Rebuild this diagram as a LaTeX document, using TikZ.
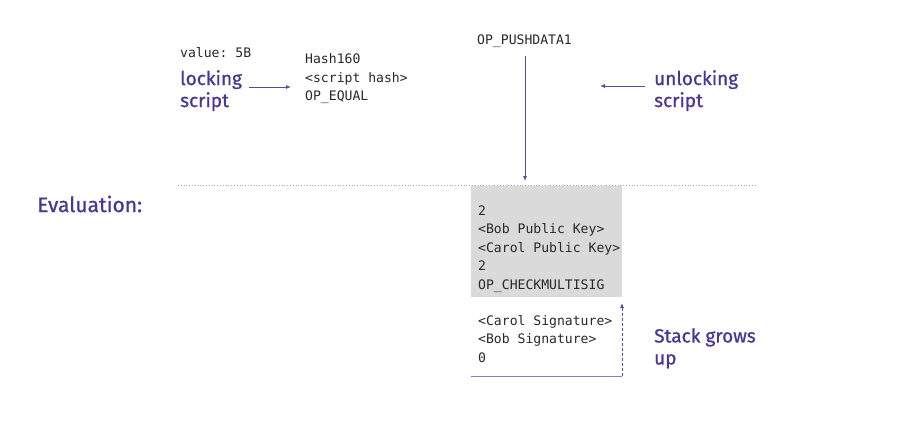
\documentclass[tikz,border=0pt]{standalone}
\usepackage{fontspec}
\setmainfont{Fira Sans}
\setmonofont{DejaVu Sans Mono}
\newfontfamily\lblfont[RawFeature={embolden=0.9}]{Fira Sans}
\usetikzlibrary{arrows.meta}
\definecolor{purp}{RGB}{74,54,148}
\definecolor{arrowc}{RGB}{85,75,160}
\definecolor{boxgray}{RGB}{218,218,218}
\definecolor{txt}{RGB}{40,40,40}
\begin{document}
\begin{tikzpicture}[x=1pt,y=-1pt,
  mono/.style={font=\ttfamily\fontsize{13.1}{18.4}\selectfont, text=txt, align=left, inner sep=0pt, anchor=north west},
  lbl/.style={font=\lblfont\fontsize{19}{22}\selectfont, text=purp, align=left, inner sep=0pt, anchor=north west},
  arr/.style={draw=arrowc, line width=0.8pt, -{Latex[length=5pt,width=4pt]}}]
\useasboundingbox (0,0) rectangle (904,421);
\fill[white] (0,0) rectangle (904,421);
% top
\node[mono] (val) at (180,47) {value: 5B};
\node[lbl] (lock) at (180,70) {locking\\script};
\node[mono] (lockscript) at (305,53.5) {Hash160\\<script hash>\\OP\_EQUAL};
\coordinate (la) at (249,87);
\coordinate (lb) at (291,87);
\draw[arr] (la) -- (lb);
\node[mono] (push) at (477,35) {OP\_PUSHDATA1};
\coordinate (pa) at (525,56);
\coordinate (pb) at (525,181);
\draw[arr] (pa) -- (pb);
\coordinate (ua) at (645,86);
\coordinate (ub) at (600,86);
\draw[arr] (ua) -- (ub);
\node[lbl] (unlock) at (654,70) {unlocking\\script};
% evaluation
\node[lbl, anchor=west, font=\lblfont\fontsize{21}{24}\selectfont] (eval) at (37,204) {Evaluation:};
\coordinate (da) at (178,185);
\coordinate (db) at (757,185);
\draw[gray!70, line width=0.8pt, dotted] (da) -- (db);
\fill[boxgray] (471,186) rectangle (622,297);
\node[mono] (redeem) at (478,205.5) {2\\<Bob Public Key>\\<Carol Public Key>\\2\\OP\_CHECKMULTISIG};
\node[mono] (sigs) at (478,315) {<Carol Signature>\\<Bob Signature>\\0};
\coordinate (sa) at (471,376);
\coordinate (sb) at (622,376);
\coordinate (sc) at (622,303);
\draw[draw=arrowc!70, line width=0.8pt] (sa) -- (sb);
\draw[arr, dashed, dash pattern=on 3pt off 2pt] (sb) -- (sc);
\node[lbl] (grow) at (654,328) {Stack grows\\up};
\end{tikzpicture}
\end{document}
